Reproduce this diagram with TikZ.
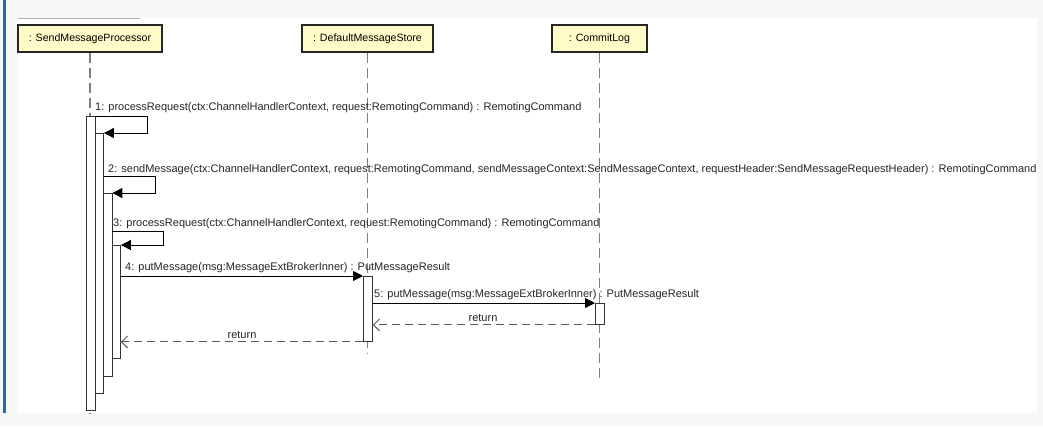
\documentclass[tikz,border=0pt]{standalone}
\usepackage{fontspec}
\setmainfont{Liberation Sans}
\usetikzlibrary{arrows.meta,calc}
\definecolor{bggray}{RGB}{247,247,248}
\definecolor{barblue}{RGB}{45,100,170}
\definecolor{headfill}{RGB}{253,252,200}
\definecolor{lifegray}{RGB}{125,125,125}
\begin{document}
\begin{tikzpicture}[x=1pt,y=-1pt, font=\fontsize{11}{13}\selectfont,
 head/.style={draw=black!85, line width=1.4pt, fill=headfill, minimum height=27pt, inner sep=0pt, font=\fontsize{10.6}{12}\selectfont},
 life/.style={draw=lifegray, line width=1.2pt, dash pattern=on 10pt off 5pt},
 bar/.style={draw=black!80, fill=white, line width=0.9pt, anchor=north west, minimum width=8.5pt, inner sep=0pt},
 msg/.style={draw=black, line width=0.9pt, -{Triangle[length=10pt,width=10pt]}},
 ret/.style={draw=black!65, line width=0.9pt, dash pattern=on 8pt off 5pt, -{Straight Barb[length=6pt,width=12pt]}},
 lbl/.style={anchor=base west, inner sep=0pt, text=black!85},
 rlbl/.style={anchor=base, inner sep=0pt, text=black!85}]

\useasboundingbox (0,0) rectangle (1043,426);
\fill[bggray] (0,0) rectangle (1043,426);
\fill[white] (18,18) rectangle (1037,413);
\fill[barblue] (3,0) rectangle (6,413);
\draw[black!30, line width=0.8pt] (18,18) -- (140,18);

% lifeline heads
\node[head, minimum width=144pt] (smp) at (90,38.5) {: SendMessageProcessor};
\node[head, minimum width=131pt] (dms) at (367.5,38.5) {: DefaultMessageStore};
\node[head, minimum width=95pt] (cl) at (599.5,38.5) {: CommitLog};

% lifelines
\coordinate (smpEnd) at (90,414);
\coordinate (dmsEnd) at (367.5,353);
\coordinate (clEnd) at (599.5,378);
\draw[life] (smp.south) -- (smpEnd);
\draw[life] (dms.south) -- (dmsEnd);
\draw[life] (cl.south) -- (clEnd);

% activation bars
\node[bar, minimum height=294pt] (b1) at (86,116) {};
\node[bar, minimum height=260pt] (b2) at (94.5,133) {};
\node[bar, minimum height=183pt] (b3) at (103,193) {};
\node[bar, minimum height=113pt] (b4) at (111.5,245) {};
\node[bar, minimum width=9pt, minimum height=65pt] (d1) at (363,276) {};
\node[bar, minimum width=9pt, minimum height=21pt] (c1) at (595,303) {};

% self calls
\draw[msg] (b1.north east) -- ++(52,0) |- (b2.north east);
\draw[msg] ($(b2.north east)+(0,43)$) -- ++(51.3,0) |- (b3.north east);
\draw[msg] ($(b3.north east)+(0,38)$) -- ++(51.5,0) |- (b4.north east);

% calls
\draw[msg] (b4.east |- d1.north west) -- (d1.north west);
\draw[msg] (d1.east |- c1.north west) -- (c1.north west);

% returns
\draw[ret] (c1.south west) -- (d1.east |- c1.south west);
\draw[ret] (d1.south west) -- (b4.east |- d1.south west);

% labels
\node[lbl] (m1) at (95,110) {1: processRequest(ctx:ChannelHandlerContext, request:RemotingCommand) : RemotingCommand};
\node[lbl] (m2) at (108,172) {2: sendMessage(ctx:ChannelHandlerContext, request:RemotingCommand, sendMessageContext:SendMessageContext, requestHeader:SendMessageRequestHeader) : RemotingCommand};
\node[lbl] (m3) at (113,226) {3: processRequest(ctx:ChannelHandlerContext, request:RemotingCommand) : RemotingCommand};
\node[lbl] (m4) at (125,270) {4: putMessage(msg:MessageExtBrokerInner) : PutMessageResult};
\node[lbl] (m5) at (374,297) {5: putMessage(msg:MessageExtBrokerInner) : PutMessageResult};
\node[rlbl] (r1) at (242,338) {return};
\node[rlbl] (r2) at (483,321) {return};
\end{tikzpicture}
\end{document}
